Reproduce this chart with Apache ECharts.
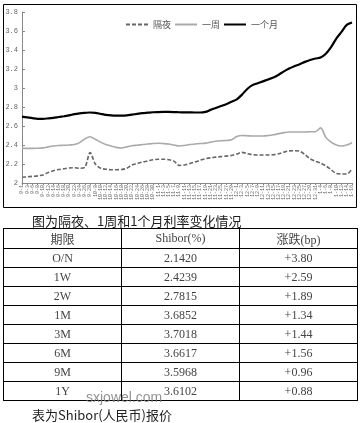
<!DOCTYPE html>
<html><head><meta charset="utf-8">
<script src="https://cdn.jsdelivr.net/npm/echarts@6/dist/echarts.min.js"></script>
<style>
html,body{margin:0;padding:0;background:#fff;width:360px;height:423px;overflow:hidden;}
#chart{position:absolute;left:0;top:0;width:360px;height:423px;}
.cap{position:absolute;font-family:"Noto Sans CJK SC","Liberation Serif",serif;font-size:13px;color:#222;white-space:nowrap;}
table{position:absolute;left:3px;top:228px;width:355px;border-collapse:collapse;font-family:"Liberation Serif","Noto Sans CJK SC",serif;font-size:12px;color:#444;}
td{border:1px solid #000;text-align:center;padding:0;height:18px;}
tr.h td{height:19px;}
#wm{position:absolute;left:86px;top:389px;font-family:"Liberation Sans",sans-serif;font-size:14px;color:rgba(120,120,120,0.8);}
</style></head>
<body>
<div id="chart"></div>
<div class="cap" style="left:32px;top:211px;">图为隔夜、1周和1个月利率变化情况</div>
<table id="tbl"></table>
<div id="wm">sxjowel.com</div>
<div class="cap" style="left:32px;top:405px;">表为Shibor(人民币)报价</div>
<script>
var categories = ['9-1','9-3','9-6','9-8','9-10','9-12','9-14','9-16','9-18','9-20','9-22','9-24','9-26','9-28',
'10-8','10-10','10-12','10-14','10-16','10-18','10-20','10-22','10-24','10-26','10-28','10-30',
'11-1','11-3','11-5','11-7','11-9','11-11','11-13','11-15','11-17','11-19','11-21','11-23','11-25','11-27','11-29',
'12-1','12-3','12-5','12-7','12-9','12-11','12-13','12-15','12-17','12-19','12-21','12-23','12-25','12-27','12-29','12-31',
'1-4','1-6','1-8','1-10','1-12','1-14','1-16'];
var overnight = [2.06,2.065,2.07,2.075,2.085,2.11,2.13,2.142,2.15,2.158,2.16,2.155,2.165,2.32,
2.2,2.155,2.145,2.14,2.14,2.142,2.155,2.19,2.205,2.22,2.232,2.245,
2.25,2.25,2.245,2.23,2.185,2.19,2.205,2.22,2.24,2.255,2.265,2.272,2.278,2.283,2.29,
2.305,2.322,2.31,2.298,2.295,2.295,2.295,2.298,2.308,2.325,2.338,2.34,2.335,2.30,2.255,2.23,
2.21,2.18,2.14,2.10,2.095,2.095,2.147];
var oneWeek = [2.365,2.365,2.365,2.366,2.37,2.38,2.39,2.395,2.397,2.40,2.405,2.425,2.465,2.487,
2.46,2.43,2.405,2.39,2.375,2.368,2.38,2.392,2.398,2.405,2.41,2.415,
2.418,2.415,2.41,2.40,2.39,2.395,2.405,2.41,2.415,2.42,2.43,2.44,2.445,2.448,2.455,
2.49,2.50,2.497,2.495,2.495,2.495,2.50,2.508,2.52,2.53,2.537,2.537,2.537,2.537,2.54,2.54,
2.58,2.48,2.43,2.40,2.39,2.40,2.424];
var oneMonth = [2.698,2.69,2.682,2.676,2.676,2.68,2.686,2.695,2.703,2.712,2.725,2.733,2.738,2.742,
2.738,2.728,2.718,2.712,2.71,2.71,2.712,2.72,2.728,2.735,2.74,2.745,
2.747,2.748,2.748,2.747,2.745,2.744,2.743,2.742,2.742,2.748,2.77,2.79,2.81,2.83,2.855,
2.88,2.93,2.99,3.03,3.05,3.07,3.09,3.11,3.14,3.175,3.205,3.23,3.25,3.275,3.295,3.31,
3.32,3.36,3.43,3.52,3.59,3.665,3.69];
var seriesNames = ['隔夜','一周','一个月'];
var tableHeader = ['期限','Shibor(%)','涨跌(bp)'];
var terms = ['O/N','1W','2W','1M','3M','6M','9M','1Y'];
var shiborRates = ['2.1420','2.4239','2.7815','3.6852','3.7018','3.6617','3.5968','3.6102'];
var changes = ['+3.80','+2.59','+1.89','+1.34','+1.44','+1.56','+0.96','+0.88'];

var tbl = document.getElementById('tbl');
var html = '<tr class="h">' + tableHeader.map(function(h){return '<td style="width:33.3%">'+h+'</td>';}).join('') + '</tr>';
for (var i = 0; i < terms.length; i++) {
  html += '<tr><td>'+terms[i]+'</td><td>'+shiborRates[i]+'</td><td>'+changes[i]+'</td></tr>';
}
tbl.innerHTML = html;

var chart = echarts.init(document.getElementById('chart'));
chart.setOption({
  backgroundColor: 'transparent',
  animation: false,
  graphic: [{type:'rect', shape:{x:3.5,y:4.5,width:353,height:203}, style:{fill:'none',stroke:'#000',lineWidth:1}, silent:true}],
  legend: {
    left: 120, top: 15, itemWidth: 22, itemHeight: 10, itemGap: 3,
    itemStyle: {opacity: 0},
    textStyle: {fontSize: 9, color: '#555', fontFamily: 'Noto Sans CJK SC'},
    data: seriesNames
  },
  grid: {left: 22, right: 8, top: 12, bottom: 240},
  xAxis: {
    type: 'category', data: categories, boundaryGap: false,
    axisLine: {lineStyle: {color: '#888'}},
    axisTick: {show: true, inside: false, length: 2, interval: 0, lineStyle: {color: '#888'}},
    axisLabel: {interval: 0, rotate: 90, fontSize: 5, color: '#666', margin: 2, fontFamily: 'Liberation Mono'}
  },
  yAxis: {
    type: 'value', min: 2, max: 3.8, interval: 0.2,
    axisLine: {show: true, lineStyle: {color: '#888'}},
    axisTick: {show: true, inside: true, length: 3, lineStyle: {color: '#888'}},
    splitLine: {show: false},
    axisLabel: {fontSize: 7, color: '#666', margin: 4, fontFamily: 'Liberation Mono'}
  },
  series: [
    {name: seriesNames[0], type: 'line', data: overnight, symbol: 'none', smooth: 0.3,
     lineStyle: {color: '#666', width: 1.6, type: [4, 2]}, itemStyle: {color: '#666'}},
    {name: seriesNames[1], type: 'line', data: oneWeek, symbol: 'none', smooth: 0.3,
     lineStyle: {color: '#aaa', width: 1.6}, itemStyle: {color: '#aaa'}},
    {name: seriesNames[2], type: 'line', data: oneMonth, symbol: 'none', smooth: 0.3,
     lineStyle: {color: '#000', width: 2.2}, itemStyle: {color: '#000'}}
  ]
});
</script>
</body></html>
